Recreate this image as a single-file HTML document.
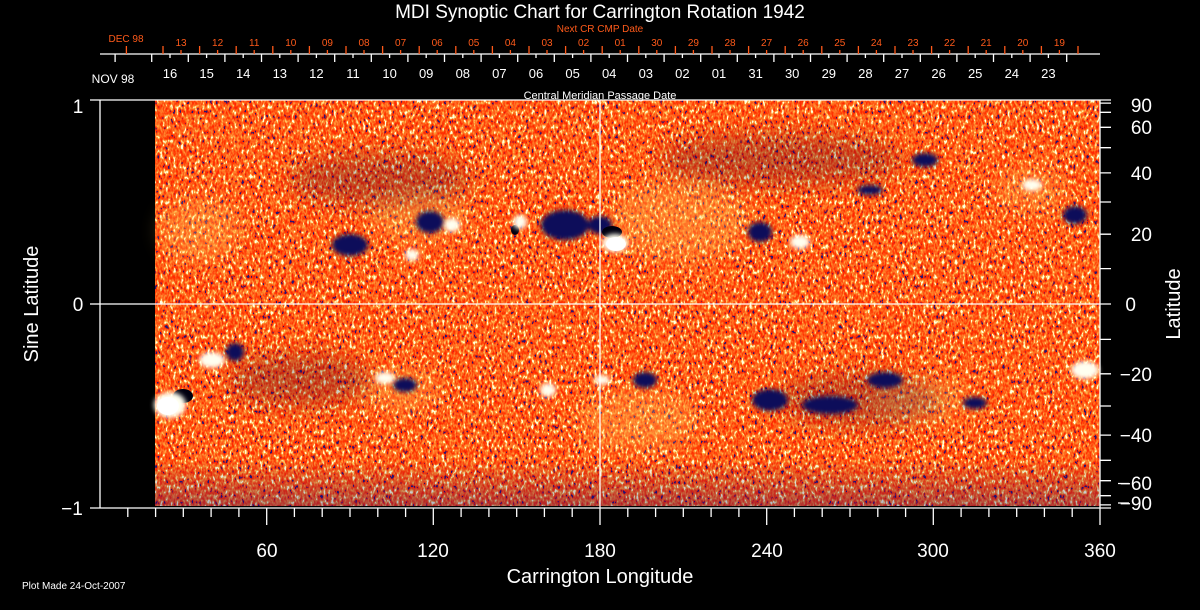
<!DOCTYPE html>
<html><head><meta charset="utf-8"><style>
html,body{margin:0;padding:0;background:#000;width:1200px;height:610px;overflow:hidden}
svg{display:block}
text{font-family:"Liberation Sans",sans-serif}
</style></head><body>
<svg width="1200" height="610" viewBox="0 0 1200 610" xmlns="http://www.w3.org/2000/svg">
<defs>
<filter id="nz" x="0" y="0" width="100%" height="100%" color-interpolation-filters="sRGB">
<feTurbulence type="fractalNoise" baseFrequency="0.38 0.2" numOctaves="2" seed="7" result="t"/>
<feColorMatrix type="matrix" values="2 0 0 0 -0.5 2 0 0 0 -0.5 2 0 0 0 -0.5 0 0 0 0 1" in="t" result="g"/>
<feComponentTransfer in="g">
<feFuncR type="discrete" tableValues="0.15 1 1 1 1 1 1 1 1 1 1 1 1 1 1 1"/>
<feFuncG type="discrete" tableValues="0.1 0.12 0.15 0.2 0.22 0.25 0.3 0.35 0.4 0.45 0.5 0.55 0.65 0.8 0.95 1"/>
<feFuncB type="discrete" tableValues="0.45 0.05 0 0 0 0.05 0.05 0.1 0.1 0.15 0.15 0.2 0.25 0.4 0.7 0.9"/>
<feFuncA type="discrete" tableValues="1"/>
</feComponentTransfer>
</filter>
<filter id="bl"><feGaussianBlur stdDeviation="2.5"/></filter>
<filter id="bl2"><feGaussianBlur stdDeviation="10"/></filter>
<linearGradient id="bot" x1="0" y1="0" x2="0" y2="1">
<stop offset="0" stop-color="#000080" stop-opacity="0"/>
<stop offset="1" stop-color="#000080" stop-opacity="0.3"/>
</linearGradient>
</defs>

<rect x="155" y="100" width="945" height="406" fill="#f03010"/>
<rect x="155" y="100" width="945" height="406" filter="url(#nz)"/>
<rect x="155" y="460" width="945" height="46" fill="url(#bot)"/>

<g filter="url(#bl2)" fill="#ffd060" opacity="0.3">
<ellipse cx="200" cy="230" rx="40" ry="30"/>
<ellipse cx="420" cy="215" rx="50" ry="25"/>
<ellipse cx="680" cy="220" rx="70" ry="40"/>
<ellipse cx="1030" cy="190" rx="35" ry="20"/>
<ellipse cx="640" cy="420" rx="60" ry="30"/>
<ellipse cx="920" cy="400" rx="50" ry="20"/>
<ellipse cx="400" cy="390" rx="40" ry="20"/>
</g>
<g filter="url(#bl2)" fill="#200040" opacity="0.25">
<ellipse cx="780" cy="160" rx="120" ry="25"/>
<ellipse cx="380" cy="180" rx="90" ry="25"/>
<ellipse cx="860" cy="400" rx="80" ry="25"/>
<ellipse cx="300" cy="380" rx="70" ry="25"/>
</g>

<g filter="url(#bl)" fill="#10105a">
<ellipse cx="350" cy="245" rx="18" ry="11"/>
<ellipse cx="430" cy="222" rx="14" ry="11"/>
<ellipse cx="565" cy="225" rx="24" ry="15"/>
<ellipse cx="600" cy="225" rx="12" ry="9"/>
<ellipse cx="760" cy="232" rx="12" ry="10"/>
<ellipse cx="235" cy="352" rx="9" ry="9"/>
<ellipse cx="405" cy="385" rx="12" ry="7"/>
<ellipse cx="645" cy="380" rx="12" ry="8"/>
<ellipse cx="770" cy="400" rx="18" ry="11"/>
<ellipse cx="830" cy="405" rx="28" ry="9"/>
<ellipse cx="885" cy="380" rx="18" ry="8"/>
<ellipse cx="975" cy="403" rx="12" ry="6"/>
<ellipse cx="1075" cy="215" rx="12" ry="9"/>
<ellipse cx="925" cy="160" rx="13" ry="7"/>
<ellipse cx="870" cy="190" rx="13" ry="5"/>
</g>
<g fill="#000010">
<ellipse cx="183" cy="396" rx="10" ry="7"/>
<ellipse cx="612" cy="232" rx="10" ry="6"/>
<ellipse cx="515" cy="230" rx="4" ry="5"/>
</g>
<g filter="url(#bl)" fill="#fffff0">
<ellipse cx="615" cy="243" rx="13" ry="9"/>
<ellipse cx="452" cy="225" rx="8" ry="7"/>
<ellipse cx="412" cy="255" rx="7" ry="6"/>
<ellipse cx="800" cy="242" rx="10" ry="7"/>
<ellipse cx="212" cy="360" rx="13" ry="8"/>
<ellipse cx="170" cy="405" rx="16" ry="13"/>
<ellipse cx="385" cy="378" rx="10" ry="6"/>
<ellipse cx="548" cy="390" rx="8" ry="7"/>
<ellipse cx="602" cy="380" rx="8" ry="5"/>
<ellipse cx="1085" cy="370" rx="14" ry="9"/>
<ellipse cx="1032" cy="185" rx="10" ry="6"/>
<ellipse cx="520" cy="222" rx="7" ry="7"/>
</g>
<ellipse cx="616" cy="244" rx="10" ry="7" fill="#fff"/>
<ellipse cx="168" cy="406" rx="11" ry="9" fill="#fff"/>

<g stroke="#fff" stroke-width="1.3" fill="none">
<line x1="100" y1="100" x2="100" y2="508"/>
<line x1="1100" y1="100" x2="1100" y2="508"/>
<line x1="90" y1="100" x2="1100" y2="100"/>
<line x1="90" y1="508" x2="1100" y2="508"/>
<line x1="100" y1="304" x2="1100" y2="304"/>
<line x1="600" y1="100" x2="600" y2="508"/>
<line x1="90" y1="304" x2="100" y2="304"/>
<line x1="100" y1="54" x2="1100" y2="54"/>
<path d="M127.8 508v9M155.6 508v9M183.3 508v9M211.1 508v9M238.9 508v9M266.7 508v17M294.4 508v9M322.2 508v9M350 508v9M377.8 508v9M405.6 508v9M433.3 508v17M461.1 508v9M488.9 508v9M516.7 508v9M544.4 508v9M572.2 508v9M600 508v17M627.8 508v9M655.6 508v9M683.3 508v9M711.1 508v9M738.9 508v9M766.7 508v17M794.4 508v9M822.2 508v9M850 508v9M877.8 508v9M905.6 508v9M933.3 508v17M961.1 508v9M988.9 508v9M1016.7 508v9M1044.4 508v9M1072.2 508v9M1100 508v17"/>
<path d="M1100 100h11M1100 103.1h11M1100 112.3h11M1100 127.3h11M1100 147.7h11M1100 172.9h11M1100 202h11M1100 234.2h11M1100 268.6h11M1100 304h11M1100 339.4h11M1100 373.8h11M1100 406h11M1100 435.1h11M1100 460.3h11M1100 480.7h11M1100 495.7h11M1100 504.9h11M1100 508h11"/>
<path d="M1118 483.5h11M1118 503h11"/>
<path d="M115.1 54v8M151.7 54v8M188.3 54v8M224.9 54v8M261.5 54v8M298.1 54v8M334.7 54v8M371.3 54v8M407.9 54v8M444.5 54v8M481.1 54v8M517.7 54v8M554.3 54v8M590.9 54v8M627.5 54v8M664.1 54v8M700.7 54v8M737.3 54v8M773.9 54v8M810.5 54v8M847.1 54v8M883.7 54v8M920.3 54v8M956.9 54v8M993.5 54v8M1030.1 54v8M1066.7 54v8"/>
<path d="M170 54v4M206.6 54v4M243.2 54v4M279.8 54v4M316.4 54v4M353 54v4M389.6 54v4M426.2 54v4M462.8 54v4M499.4 54v4M536 54v4M572.6 54v4M609.2 54v4M645.8 54v4M682.4 54v4M719 54v4M755.6 54v4M792.2 54v4M828.8 54v4M865.4 54v4M902 54v4M938.6 54v4M975.2 54v4M1011.8 54v4M1048.4 54v4"/>
</g>
<g stroke="#ff5a1a" stroke-width="1.3" fill="none">
<path d="M126.4 46v8M163 46v8M199.6 46v8M236.2 46v8M272.8 46v8M309.4 46v8M346 46v8M382.6 46v8M419.2 46v8M455.8 46v8M492.4 46v8M529 46v8M565.6 46v8M602.2 46v8M638.8 46v8M675.4 46v8M712 46v8M748.6 46v8M785.2 46v8M821.8 46v8M858.4 46v8M895 46v8M931.6 46v8M968.2 46v8M1004.8 46v8M1041.4 46v8M1078 46v8"/>
<path d="M181 50v4M217.6 50v4M254.2 50v4M290.8 50v4M327.4 50v4M364 50v4M400.6 50v4M437.2 50v4M473.8 50v4M510.4 50v4M547 50v4M583.6 50v4M620.2 50v4M656.8 50v4M693.4 50v4M730 50v4M766.6 50v4M803.2 50v4M839.8 50v4M876.4 50v4M913 50v4M949.6 50v4M986.2 50v4M1022.8 50v4M1059.4 50v4"/>
</g>

<g fill="#fff">
<text x="600" y="18" font-size="19" text-anchor="middle">MDI Synoptic Chart for Carrington Rotation 1942</text>
<text x="600" y="99" font-size="11" text-anchor="middle">Central Meridian Passage Date</text>
<text x="113" y="83" font-size="12" text-anchor="middle">NOV 98</text>
<text x="78" y="113" font-size="19" text-anchor="middle">1</text>
<text x="78" y="311" font-size="19" text-anchor="middle">0</text>
<text x="72" y="515" font-size="19" text-anchor="middle">−1</text>
<text transform="translate(38,304) rotate(-90)" font-size="20" text-anchor="middle">Sine Latitude</text>
<text transform="translate(1180,304) rotate(-90)" font-size="20" text-anchor="middle">Latitude</text>
<text x="600" y="583" font-size="20" text-anchor="middle">Carrington Longitude</text>
<text x="22" y="589" font-size="10">Plot Made 24-Oct-2007</text>
</g>
<g fill="#fff" font-size="19" text-anchor="middle">
<text x="267" y="557">60</text><text x="433" y="557">120</text><text x="600" y="557">180</text>
<text x="767" y="557">240</text><text x="933" y="557">300</text><text x="1100" y="557">360</text>
</g>
<g fill="#fff" font-size="19" text-anchor="end">
<text x="1152" y="112">90</text><text x="1152" y="134">60</text><text x="1152" y="180">40</text>
<text x="1152" y="241">20</text><text x="1136" y="311">0</text><text x="1152" y="381">−20</text>
<text x="1152" y="442">−40</text><text x="1152" y="490">−60</text><text x="1152" y="510">−90</text>
</g>
<g fill="#fff" font-size="13" text-anchor="middle">
<text x="170" y="78">16</text><text x="206.6" y="78">15</text><text x="243.2" y="78">14</text><text x="279.8" y="78">13</text><text x="316.4" y="78">12</text><text x="353" y="78">11</text><text x="389.6" y="78">10</text><text x="426.2" y="78">09</text><text x="462.8" y="78">08</text><text x="499.4" y="78">07</text><text x="536" y="78">06</text><text x="572.6" y="78">05</text><text x="609.2" y="78">04</text><text x="645.8" y="78">03</text><text x="682.4" y="78">02</text><text x="719" y="78">01</text><text x="755.6" y="78">31</text><text x="792.2" y="78">30</text><text x="828.8" y="78">29</text><text x="865.4" y="78">28</text><text x="902" y="78">27</text><text x="938.6" y="78">26</text><text x="975.2" y="78">25</text><text x="1011.8" y="78">24</text><text x="1048.4" y="78">23</text>
</g>
<g fill="#ff5a1a" font-size="10" text-anchor="middle">
<text x="600" y="32">Next CR CMP Date</text>
<text x="126" y="42">DEC 98</text>
<text x="181" y="46">13</text><text x="217.6" y="46">12</text><text x="254.2" y="46">11</text><text x="290.8" y="46">10</text><text x="327.4" y="46">09</text><text x="364" y="46">08</text><text x="400.6" y="46">07</text><text x="437.2" y="46">06</text><text x="473.8" y="46">05</text><text x="510.4" y="46">04</text><text x="547" y="46">03</text><text x="583.6" y="46">02</text><text x="620.2" y="46">01</text><text x="656.8" y="46">30</text><text x="693.4" y="46">29</text><text x="730" y="46">28</text><text x="766.6" y="46">27</text><text x="803.2" y="46">26</text><text x="839.8" y="46">25</text><text x="876.4" y="46">24</text><text x="913" y="46">23</text><text x="949.6" y="46">22</text><text x="986.2" y="46">21</text><text x="1022.8" y="46">20</text><text x="1059.4" y="46">19</text>
</g>
</svg>
</body></html>
